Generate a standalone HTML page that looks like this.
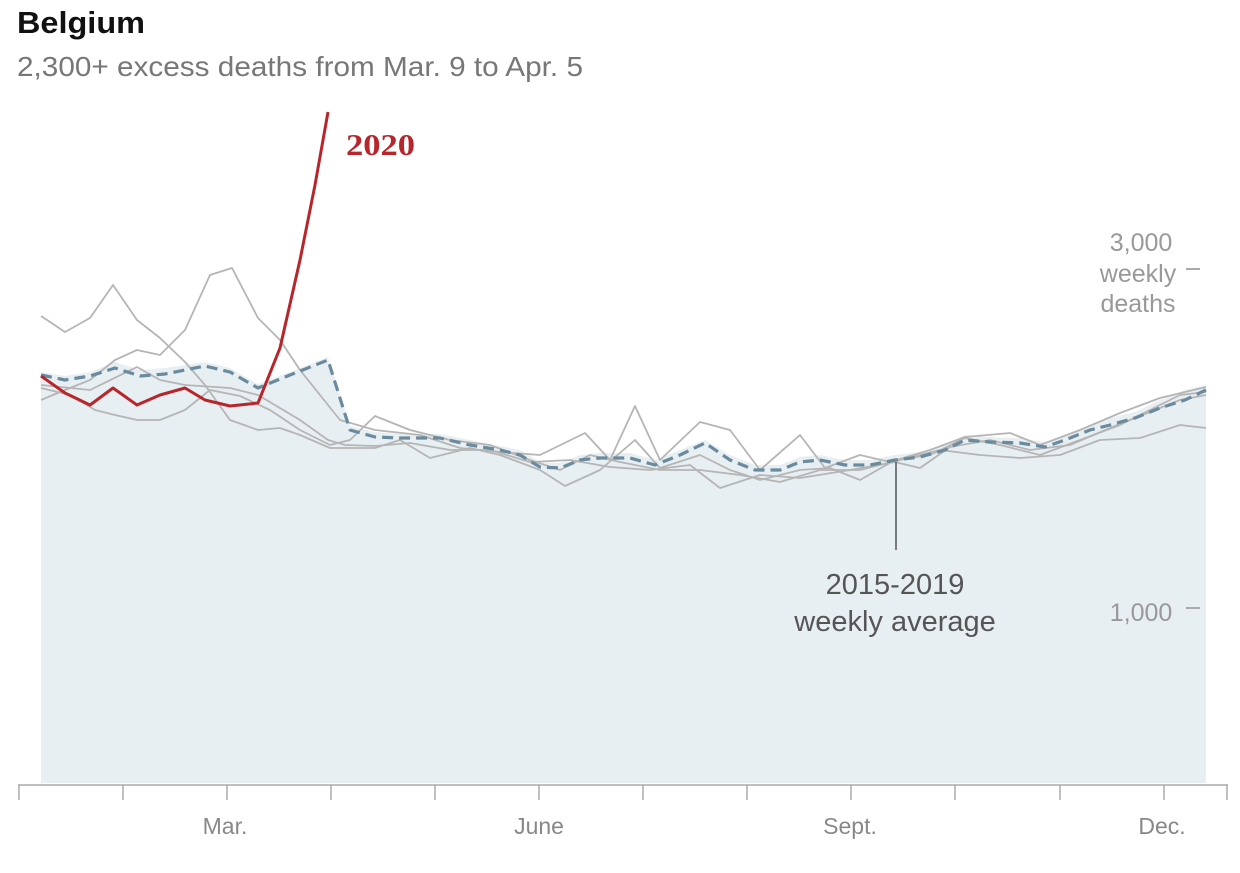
<!DOCTYPE html>
<html><head><meta charset="utf-8"><style>
html,body{margin:0;padding:0;background:#fff;}
body{width:1240px;height:873px;overflow:hidden;font-family:"Liberation Sans",sans-serif;}
</style></head><body>
<svg width="1240" height="873" viewBox="0 0 1240 873" xmlns="http://www.w3.org/2000/svg" style="position:absolute;left:0;top:0">
<text x="17" y="33" font-size="31" font-weight="bold" fill="#111" textLength="128" lengthAdjust="spacingAndGlyphs">Belgium</text>
<text x="17" y="76" font-size="28" fill="#777" textLength="566" lengthAdjust="spacingAndGlyphs">2,300+ excess deaths from Mar. 9 to Apr. 5</text>
<polygon fill="#e8eff3" points="41,372 65,376 90,372 115,362 140,370 165,368 205,362 230,368 258,384 290,372 328,357 350,426 375,432 400,434 440,434 470,440 500,446 520,450 540,462 560,463 580,455 600,453 630,453 655,460 680,450 705,440 730,455 755,465 780,465 800,457 820,455 845,460 870,460 895,455 920,452 945,445 965,435 990,437 1020,438 1045,442 1065,435 1090,425 1110,418 1135,412 1160,400 1185,390 1206,385 1206,783 41,783"/>
<g fill="none" stroke="#b5b5b5" stroke-width="1.8" stroke-linejoin="round">
<polyline points="41,316 65,332 90,318 113,285 137,320 160,338 185,362 205,385 230,420 258,430 280,428 300,435 330,448 375,448 400,440 430,458 470,448 500,455 540,470 565,486 600,470 635,440 660,468 700,455 730,470 760,480 800,470 830,468 860,480 895,460 930,455 965,438 1000,445 1040,455 1080,440 1120,425 1150,410 1180,395 1206,392"/>
<polyline points="41,400 65,390 90,380 115,360 137,350 160,355 185,330 210,275 232,268 258,318 280,340 300,370 320,395 340,420 375,430 420,435 460,448 500,452 540,455 585,433 610,460 635,406 660,460 700,422 730,430 760,470 800,435 825,468 860,455 890,462 930,450 965,437 1010,433 1040,445 1080,430 1120,413 1160,398 1206,387"/>
<polyline points="41,388 70,395 95,410 115,415 137,420 160,420 185,410 210,390 240,396 270,410 300,430 330,445 350,440 375,416 410,430 450,440 490,445 530,460 560,470 590,455 620,462 660,470 700,470 740,475 780,482 820,470 860,470 900,460 940,450 980,455 1020,458 1060,455 1100,440 1140,438 1180,425 1206,428"/>
<polyline points="41,385 90,390 137,367 160,380 185,385 230,388 258,395 300,420 328,440 345,445 375,446 410,443 450,450 490,450 530,462 570,460 610,467 650,470 690,465 720,488 760,475 800,478 850,470 895,462 920,468 950,447 990,440 1030,450 1070,445 1110,428 1150,412 1180,400 1206,395"/>
</g>
<polyline fill="none" stroke="#6a8a9e" stroke-width="3.2" stroke-dasharray="11,6" stroke-linejoin="round" points="41,375 65,380 90,376 115,368 140,376 165,374 205,366 230,372 258,388 290,375 328,360 350,430 375,437 400,438 440,438 470,445 500,450 520,455 540,467 560,468 580,460 600,458 630,458 655,465 680,455 705,443 730,460 755,470 780,470 800,462 820,460 845,465 870,465 895,460 920,457 945,450 965,440 990,442 1020,443 1045,447 1065,440 1090,430 1110,425 1135,418 1160,408 1185,400 1206,390"/>
<polyline fill="none" stroke="#b8262b" stroke-width="3" stroke-linejoin="round" points="41,376 65,393 90,405 113,388 137,405 160,395 185,388 205,400 230,406 258,403 280,348 300,260 315,185 328,112"/>
<text x="346" y="155" font-family="Liberation Serif,serif" font-size="31" font-weight="bold" fill="#b8262b" textLength="69" lengthAdjust="spacingAndGlyphs">2020</text>
<line x1="896" y1="462" x2="896" y2="550" stroke="#555" stroke-width="1.5"/>
<text x="895" y="594" font-size="29" fill="#555" text-anchor="middle">2015-2019</text>
<text x="895" y="631" font-size="29" fill="#555" text-anchor="middle">weekly average</text>
<g font-size="25" fill="#999" text-anchor="middle">
<text x="1141" y="251">3,000</text>
<text x="1138" y="282">weekly</text>
<text x="1138" y="312">deaths</text>
<text x="1141" y="621">1,000</text>
</g>
<line x1="1186" y1="269" x2="1200" y2="269" stroke="#aaa" stroke-width="2"/>
<line x1="1186" y1="608" x2="1200" y2="608" stroke="#aaa" stroke-width="2"/>
<line x1="18" y1="785" x2="1228" y2="785" stroke="#aaa" stroke-width="1.5"/>
<g stroke="#aaa" stroke-width="1.5">
<line x1="19" y1="785" x2="19" y2="800"/><line x1="123" y1="785" x2="123" y2="800"/><line x1="227" y1="785" x2="227" y2="800"/><line x1="331" y1="785" x2="331" y2="800"/><line x1="435" y1="785" x2="435" y2="800"/><line x1="539" y1="785" x2="539" y2="800"/><line x1="643" y1="785" x2="643" y2="800"/><line x1="747" y1="785" x2="747" y2="800"/><line x1="851" y1="785" x2="851" y2="800"/><line x1="955" y1="785" x2="955" y2="800"/><line x1="1060" y1="785" x2="1060" y2="800"/><line x1="1164" y1="785" x2="1164" y2="800"/><line x1="1227" y1="785" x2="1227" y2="800"/>
</g>
<g font-size="23" fill="#888" text-anchor="middle">
<text x="225" y="834">Mar.</text><text x="539" y="834">June</text><text x="850" y="834">Sept.</text><text x="1162" y="834">Dec.</text>
</g>
</svg>
</body></html>
